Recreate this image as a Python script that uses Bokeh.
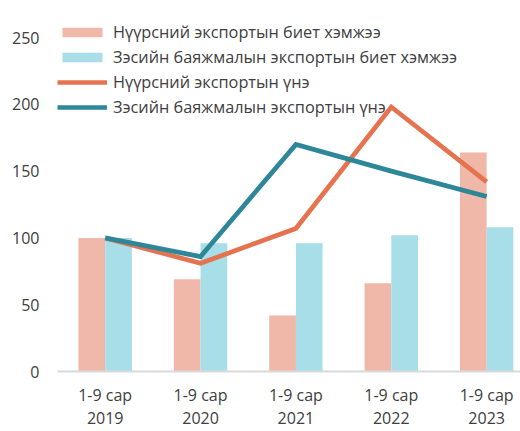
from bokeh.plotting import figure
from bokeh.models import Range1d, Legend, LegendItem, FixedTicker, ColumnDataSource
from bokeh.transform import dodge
from bokeh.embed import file_html
from bokeh.resources import INLINE

periods = ["2019", "2020", "2021", "2022", "2023"]
tick_labels = ["1-9 сар\n2019", "1-9 сар\n2020", "1-9 сар\n2021", "1-9 сар\n2022", "1-9 сар\n2023"]
coal_volume = [100, 69, 42, 66, 164]
copper_volume = [100, 96, 96, 102, 108]
coal_price = [100, 81, 107, 198, 142]
copper_price = [100, 86, 170, 150, 131]
y_ticks = [0, 50, 100, 150, 200, 250]

names = ["Нүүрсний экспортын биет хэмжээ",
         "Зэсийн баяжмалын экспортын биет хэмжээ",
         "Нүүрсний экспортын үнэ",
         "Зэсийн баяжмалын экспортын үнэ"]

xs = list(range(len(periods)))
src = ColumnDataSource(dict(x=xs, coal_v=coal_volume, copper_v=copper_volume,
                            coal_p=coal_price, copper_p=copper_price))

FONT = "Open Sans"
TXT = "#404040"

p = figure(width=520, height=431, output_backend="svg", toolbar_location=None,
           x_range=Range1d(-0.5, 4.355), y_range=Range1d(0, 262),
           min_border_left=57, min_border_right=0, min_border_top=21, min_border_bottom=59)
p.outline_line_color = None
p.background_fill_color = "white"
p.xgrid.visible = False
p.ygrid.visible = False

b1 = p.vbar(x=dodge("x", -0.14), top="coal_v", width=0.28, source=src,
            fill_color="#F0B8A8", line_color=None)
b2 = p.vbar(x=dodge("x", 0.14), top="copper_v", width=0.28, source=src,
            fill_color="#A7DEE8", line_color=None)
l1 = p.line(x="x", y="coal_p", source=src, line_color="#E6734F", line_width=4.7,
            line_join="miter")
l2 = p.line(x="x", y="copper_p", source=src, line_color="#2E8799", line_width=4.7,
            line_join="miter")

p.yaxis.ticker = FixedTicker(ticks=y_ticks)
p.yaxis.axis_line_color = None
p.yaxis.major_tick_line_color = None
p.yaxis.minor_tick_line_color = None
p.yaxis.major_tick_out = 0
p.yaxis.major_tick_in = 0
p.yaxis.major_label_standoff = 18
p.yaxis.major_label_text_font = FONT
p.yaxis.major_label_text_font_size = "16px"
p.yaxis.major_label_text_color = TXT

p.xaxis.ticker = FixedTicker(ticks=xs)
p.xaxis.major_label_overrides = {i: t for i, t in zip(xs, tick_labels)}
p.xaxis.axis_line_color = "#D9D9D9"
p.xaxis.axis_line_width = 2
p.xaxis.major_tick_line_color = None
p.xaxis.minor_tick_line_color = None
p.xaxis.major_tick_out = 0
p.xaxis.major_tick_in = 0
p.xaxis.major_label_standoff = 12
p.xaxis.major_label_text_font = FONT
p.xaxis.major_label_text_font_size = "16px"
p.xaxis.major_label_text_color = TXT
p.xaxis.major_label_text_line_height = 1.05

legend = Legend(items=[LegendItem(label=names[0], renderers=[b1]),
                       LegendItem(label=names[1], renderers=[b2]),
                       LegendItem(label=names[2], renderers=[l1]),
                       LegendItem(label=names[3], renderers=[l2])],
                location="top_left", margin=0, padding=4, spacing=3,
                glyph_width=50, glyph_height=12, label_height=20,
                label_standoff=6, border_line_color=None,
                background_fill_alpha=0,
                label_text_font=FONT, label_text_font_size="16.3px",
                label_text_color=TXT)
p.add_layout(legend)

open("out.html", "w").write(file_html(p, INLINE))
